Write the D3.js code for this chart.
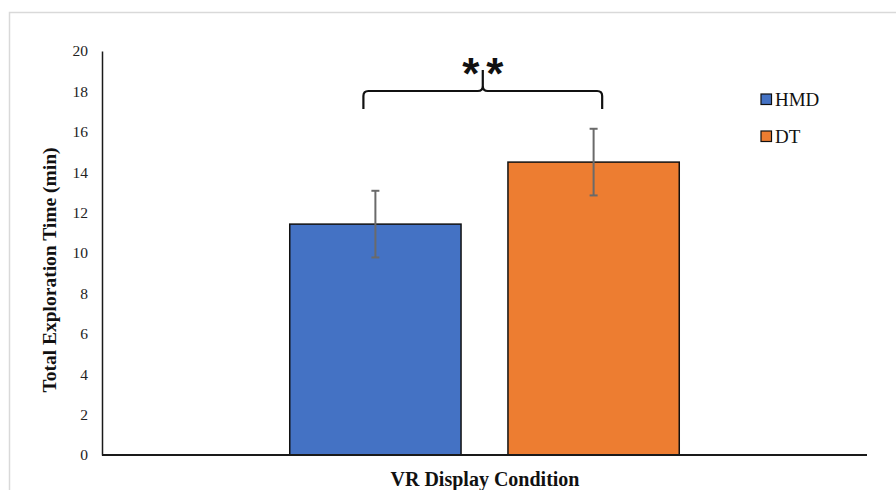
<!DOCTYPE html>
<html><head><meta charset="utf-8">
<script src="https://cdn.jsdelivr.net/npm/d3@7"></script>
<style>html,body{margin:0;padding:0;background:#fff;}svg{display:block;}</style>
</head><body>
<svg id="chart" width="896" height="490"></svg>
<script>
const categories = ["VR Display Condition"];
const seriesNames = ["HMD", "DT"];
const seriesValues = [11.43, 14.5];
const seriesErrors = [1.65, 1.65];
const seriesColors = ["#4472C4", "#ED7D31"];
const yTicks = [0, 2, 4, 6, 8, 10, 12, 14, 16, 18, 20];
const significance = "**";

const svg = d3.select("#chart");
const W = 896, H = 490;
const m = {left: 102, right: 29, top: 51, bottom: 35};
const plotBottom = 455;

// outer frame
svg.append("rect").attr("x", 9.5).attr("y", 12.5).attr("width", 900).attr("height", 500)
  .attr("fill", "#fff").attr("stroke", "#d9d9d9").attr("stroke-width", 1.5);

const y = d3.scaleLinear().domain([0, 20]).range([plotBottom, m.top]);
const x0 = d3.scaleBand().domain(categories).range([m.left, W - m.right]).paddingOuter(0.482);
const x1 = d3.scaleBand().domain(seriesNames).range([0, x0.bandwidth()]).paddingInner(0.215);

const data = seriesNames.map((s, i) => ({name: s, value: seriesValues[i], err: seriesErrors[i], color: seriesColors[i]}));

// y axis
const yAxis = d3.axisLeft(y).tickValues(yTicks).tickSize(0).tickSizeOuter(0).tickPadding(14);
const gy = svg.append("g").attr("transform", `translate(${m.left},0)`).call(yAxis);
gy.select(".domain").attr("stroke", "#1a1a1a").attr("stroke-width", 1.5);
gy.selectAll("text").attr("font-family", "'Liberation Serif','Times New Roman',serif")
  .attr("font-size", 15.5).attr("fill", "#222");

// bars
const g = svg.append("g").attr("transform", `translate(${x0(categories[0])},0)`);
g.selectAll("rect.bar").data(data).join("rect").attr("class", "bar")
  .attr("x", d => x1(d.name)).attr("width", x1.bandwidth())
  .attr("y", d => y(d.value)).attr("height", d => y(0) - y(d.value))
  .attr("fill", d => d.color).attr("stroke", "#111").attr("stroke-width", 1.5);

// x axis line
svg.append("line").attr("x1", m.left).attr("x2", W - m.right)
  .attr("y1", y(0)).attr("y2", y(0)).attr("stroke", "#1a1a1a").attr("stroke-width", 2);

// error bars
const eb = g.selectAll("g.err").data(data).join("g").attr("class", "err")
  .attr("transform", d => `translate(${x1(d.name) + x1.bandwidth() / 2},0)`);
eb.append("line").attr("y1", d => y(d.value - d.err)).attr("y2", d => y(d.value + d.err))
  .attr("stroke", "#6a6a6a").attr("stroke-width", 2);
eb.append("line").attr("x1", -4).attr("x2", 4).attr("y1", d => y(d.value + d.err)).attr("y2", d => y(d.value + d.err))
  .attr("stroke", "#6a6a6a").attr("stroke-width", 2);
eb.append("line").attr("x1", -4).attr("x2", 4).attr("y1", d => y(d.value - d.err)).attr("y2", d => y(d.value - d.err))
  .attr("stroke", "#6a6a6a").attr("stroke-width", 2);

// significance bracket
const bx1 = x0(categories[0]) + x1("HMD") + x1.bandwidth() * 0.43;
const bx2 = x0(categories[0]) + x1("DT") + x1.bandwidth() * 0.55;
const bxm = (bx1 + bx2) / 2;
const byTop = 91, byEnd = 109, byPeak = 70, r = 5;
const p = d3.path();
p.moveTo(bx1, byEnd);
p.lineTo(bx1, byTop + r);
p.quadraticCurveTo(bx1, byTop, bx1 + r, byTop);
p.lineTo(bxm - r, byTop);
p.quadraticCurveTo(bxm, byTop, bxm, byTop - r);
p.lineTo(bxm, byPeak);
p.moveTo(bxm, byTop - r);
p.quadraticCurveTo(bxm, byTop, bxm + r, byTop);
p.lineTo(bx2 - r, byTop);
p.quadraticCurveTo(bx2, byTop, bx2, byTop + r);
p.lineTo(bx2, byEnd);
svg.append("path").attr("d", p.toString()).attr("fill", "none").attr("stroke", "#111").attr("stroke-width", 2.2);
svg.append("text").attr("x", bxm + 3.5).attr("y", 89).attr("text-anchor", "middle")
  .attr("font-family", "'Liberation Sans',Arial,sans-serif").attr("font-weight", "bold")
  .attr("font-size", 44).attr("letter-spacing", 7).attr("fill", "#111").text(significance);

// legend
const lg = svg.append("g").attr("transform", "translate(761,94)");
const li = lg.selectAll("g").data(data).join("g").attr("transform", (d, i) => `translate(0,${i * 37})`);
li.append("rect").attr("width", 10.5).attr("height", 10.5).attr("fill", d => d.color)
  .attr("stroke", "#111").attr("stroke-width", 1.2);
li.append("text").attr("x", 14).attr("y", 12).text(d => d.name)
  .attr("font-family", "'Liberation Serif','Times New Roman',serif").attr("font-size", 19).attr("fill", "#111");

// axis titles
svg.append("text").attr("transform", `translate(56,270) rotate(-90)`).attr("text-anchor", "middle")
  .attr("font-family", "'Liberation Serif','Times New Roman',serif").attr("font-weight", "bold")
  .attr("font-size", 19.5).attr("fill", "#111").text("Total Exploration Time (min)");
svg.append("text").attr("x", 485).attr("y", 486).attr("text-anchor", "middle")
  .attr("font-family", "'Liberation Serif','Times New Roman',serif").attr("font-weight", "bold")
  .attr("font-size", 20).attr("fill", "#111").text(categories[0]);
</script>
</body></html>
